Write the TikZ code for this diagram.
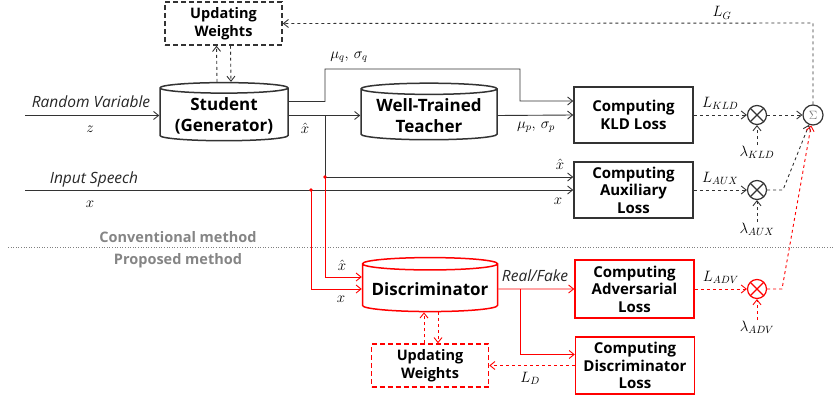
\RequirePackage{fix-cm}
\documentclass[tikz,border=0pt]{standalone}
\usepackage{amsmath}
\usepackage{fontspec}
\setsansfont{Open Sans}
\usepackage{tikz}
\usetikzlibrary{positioning, calc}
\usetikzlibrary{arrows.meta}
\usetikzlibrary{shapes}

\begin{document}
\begin{tikzpicture}[x=1pt,y=-1pt,>={Straight Barb[length=5pt,width=8pt]},line width=0.9pt,draw=black!80]
 	\def\linex{325}
 	\def\speechx{311}
 	\tikzstyle{box}=[rectangle,draw,line width=1.5pt,minimum width=119pt,minimum height=56pt,align=center,inner sep=1pt,font=\sffamily\bfseries\fontsize{15}{17.5}\selectfont]
 	\tikzstyle{upd}=[box,dashed,dash pattern=on 5pt off 3pt,minimum width=117pt,minimum height=43pt,font=\sffamily\bfseries\fontsize{14.5}{17.5}\selectfont]
 	\tikzstyle{cyl}=[cylinder,shape border rotate=90,aspect=0.1,draw,line width=1.5pt,align=center,font=\sffamily\bfseries\fontsize{17}{21}\selectfont]
 	\tikzstyle{mul}=[circle,draw,line width=1.2pt,minimum size=19pt,inner sep=0pt,path picture={\draw[line width=1.2pt] (path picture bounding box.north west) -- (path picture bounding box.south east) (path picture bounding box.south west) -- (path picture bounding box.north east);}]
 	\tikzstyle{annot}=[font=\sffamily\itshape\fontsize{15.5}{18}\selectfont,inner sep=0pt,text=black!85]
 	\tikzstyle{lab}=[font=\fontsize{15}{17}\selectfont,inner sep=0pt,text=black]
 	\tikzstyle{sect}=[font=\sffamily\bfseries\fontsize{14.5}{17}\selectfont,text=black!48,inner sep=0pt]
 	\tikzstyle{loss}=[dashed,->]
 	\useasboundingbox (0,0) rectangle (834,401);

 	% generator side
 	\node[upd] 	(upd-g)	at (223.5,23.5)	{Updating\\Weights};
 	\node[cyl,minimum width=128pt,minimum height=55pt] 	(student)	at (224,115.5)	{Student\\(Generator)};
 	\node[cyl,minimum width=136pt,minimum height=55pt] 	(teacher)	at (429,115.5)	{Well-Trained\\Teacher};
 	\node[box] 	(kld)	at (633.5,115)	{Computing\\KLD Loss};
 	\node[box] 	(aux)	at (633.5,190)	{Computing\\Auxiliary\\Loss};

 	% discriminator side
 	\node[cyl,red,minimum width=135pt,minimum height=54pt] 	(disc)	at (430,289)	{\textcolor{black}{Discriminator}};
 	\node[box,red,minimum height=58pt] 	(adv)	at (634.5,289)	{\textcolor{black}{Computing}\\\textcolor{black}{Adversarial}\\\textcolor{black}{Loss}};
 	\node[box,red,minimum height=57pt] 	(dloss)	at (635,365.5)	{\textcolor{black}{Computing}\\\textcolor{black}{Discriminator}\\\textcolor{black}{Loss}};
 	\node[upd,red] 	(upd-d)	at (430,365.5)	{\textcolor{black}{Updating}\\\textcolor{black}{Weights}};

 	% weighting and sum
 	\node[mul] 	(mul-kld)	at (757,115)	{};
 	\node[mul] 	(mul-aux)	at (757,190)	{};
 	\node[mul,red] 	(mul-adv)	at (757,289)	{};
 	\node[circle,draw,line width=1.2pt,minimum size=20pt,inner sep=0pt,font=\fontsize{12}{12}\selectfont] 	(sum)	at (813,115)	{\textcolor{black!55}{$\Sigma$}};
 	\node[lab] 	(lam-kld)	at (757,152)	{$\lambda_{KLD}$};
 	\node[lab] 	(lam-aux)	at (757,229)	{$\lambda_{AUX}$};
 	\node[lab] 	(lam-adv)	at (757,327)	{$\lambda_{ADV}$};

 	% inputs
 	\coordinate (rv-in) at (25,115.5);
 	\coordinate (sp-in) at (25,190);
 	\node[annot] 	(rv-label)	at (91,102)	{Random Variable};
 	\node[lab] 	(z-label)	at (90,129)	{$z$};
 	\node[annot] 	(sp-label)	at (94,179)	{Input Speech};
 	\node[lab] 	(x-label)	at (90,204)	{$x$};

 	% section labels
 	\draw[dotted,black!50,line width=0.6pt] (8,247) -- (834,247);
 	\node[sect] 	(conv-label)	at (178,237)	{Conventional method};
 	\node[sect] 	(prop-label)	at (178,261)	{Proposed method};

 	% generator connections
 	\draw[->] (rv-in) -- (student.west);
 	\draw[->] (student.east) -- (teacher.west);
 	\draw[->] ([yshift=14pt]student.east) -- (\linex,101.5) -- (\linex,69) -- (520,69) -- (520,101) -- ([yshift=14pt]kld.west);
 	\draw[->] (teacher.east) -- (kld.west);
 	\draw[->] (\linex,115.5) -- (\linex,177) -- ([yshift=13pt]aux.west);
 	\draw[->] (sp-in) -- (aux.west);
 	\draw[dashed,->] ([xshift=-7pt]student.north) -- ([xshift=-7pt]upd-g.south);
 	\draw[dashed,->] ([xshift=7pt]upd-g.south) -- ([xshift=7pt]student.north);
 	\node[lab] 	at (349,57)	{$\mu_q,\,\sigma_q$};
 	\node[lab] 	at (305,128)	{$\hat{x}$};
 	\node[lab] 	at (536,127)	{$\mu_p,\,\sigma_p$};
 	\node[lab] 	at (560,164)	{$\hat{x}$};
 	\node[lab] 	at (558,201)	{$x$};

 	% discriminator connections
 	\fill[red] (\linex,177) circle (1.8pt);
 	\fill[red] (\speechx,190) circle (1.8pt);
 	\draw[red,->] (\linex,177) |- ([yshift=12pt]disc.west);
 	\draw[red,->] (\speechx,190) |- (disc.west);
 	\draw[red,->] (disc.east) -- (adv.west);
 	\draw[red,->] (520,289) |- ([yshift=11pt]dloss.west);
 	\draw[red,loss] (dloss.west) -- (upd-d.east);
 	\draw[red,dashed,->] ([xshift=-6pt]upd-d.north) -- ([xshift=-6pt]disc.south);
 	\draw[red,dashed,->] ([xshift=8pt]disc.south) -- ([xshift=8pt]upd-d.north);
 	\node[lab] 	at (342,265)	{$\hat{x}$};
 	\node[lab] 	at (341,299)	{$x$};
 	\node[annot] 	at (535,276)	{Real/Fake};
 	\node[lab] 	at (530,378)	{$L_D$};

 	% losses
 	\draw[loss] (kld.east) -- node[lab,above=5pt] {$L_{KLD}$} (mul-kld);
 	\draw[loss] (aux.east) -- node[lab,above=5pt] {$L_{AUX}$} (mul-aux);
 	\draw[red,loss] (adv.east) -- node[lab,above=5pt] {$L_{ADV}$} (mul-adv);
 	\draw[loss] (lam-kld) -- (mul-kld);
 	\draw[loss] (lam-aux) -- (mul-aux);
 	\draw[red,loss] (lam-adv) -- (mul-adv);
 	\draw[loss] (mul-kld) -- (sum);
 	\draw[loss] (mul-aux) -- (783,190) -- (sum);
 	\draw[red,loss] (mul-adv) -- (782,289) -- (sum);
 	\draw[loss] (sum) -- (813,23) -- (upd-g.east);
 	\node[lab] 	at (722,13)	{$L_G$};
\end{tikzpicture}
\end{document}
